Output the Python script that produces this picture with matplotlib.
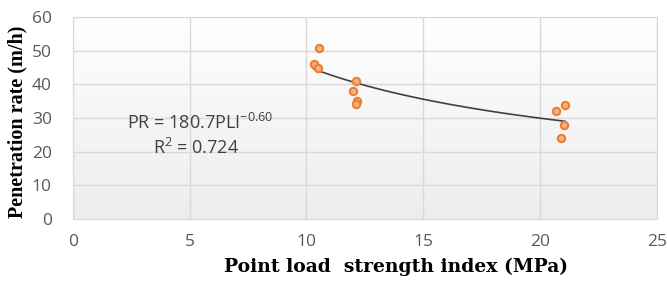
import numpy as np
import matplotlib
matplotlib.use("Agg")
from matplotlib import pyplot as plt

# measured points (PLI in MPa, PR in m/h)
pli = [10.53, 10.31, 10.50, 12.12, 11.98, 12.17, 12.10, 20.67, 21.05, 21.00, 20.88]
pr = [50.9, 46.0, 44.9, 41.0, 38.0, 35.1, 34.2, 32.0, 34.0, 27.8, 24.0]

# power trend given on the chart
coef_a = 180.7
coef_b = -0.60
x_ticks = [0, 5, 10, 15, 20, 25]
y_ticks = [0, 10, 20, 30, 40, 50, 60]

fig = plt.figure(figsize=(6.67, 2.83), dpi=100)
ax = fig.add_axes([0.109, 0.226, 0.876, 0.714])

# faint vertical gradient like the spreadsheet plot area
grad = np.linspace(0, 1, 100).reshape(-1, 1)
bg = matplotlib.colors.LinearSegmentedColormap.from_list("bg", ["#ffffff", "#eeecec"])
ax.imshow(grad, extent=[0, 25, 0, 60], aspect="auto", cmap=bg, origin="upper", zorder=0)

ax.set_xlim(0, 25)
ax.set_ylim(0, 60)
ax.set_xticks(x_ticks)
ax.set_yticks(y_ticks)
ax.grid(True, color="#d9d9d9", linewidth=1.0, zorder=1)
ax.set_axisbelow(True)
for s in ["top", "right", "left", "bottom"]:
    ax.spines[s].set_color("#d9d9d9")
ax.tick_params(axis="x", length=0, labelsize=12.5, labelcolor="#595959", pad=11)
ax.tick_params(axis="y", length=0, labelsize=12.5, labelcolor="#595959", pad=15)
for lab in ax.get_xticklabels() + ax.get_yticklabels():
    lab.set_family("Open Sans")

xs = np.linspace(min(pli), max(pli), 100)
ax.plot(xs, coef_a * xs ** coef_b, color="#404040", linewidth=1.2, zorder=3)
ax.scatter(pli, pr, s=28, facecolor="#f4b183", edgecolor="#ed7d31", linewidth=1.5, zorder=4)

ax.text(5.45, 28.6, "PR = 180.7PLI$^{\\mathregular{-0.60}}$", ha="center", va="center", fontsize=13, color="#404040", family="Open Sans")
ax.text(5.3, 21.2, "R$^{\\mathregular{2}}$ = 0.724", ha="center", va="center", fontsize=13, color="#404040", family="Open Sans")

ax.set_xlabel("Point load  strength index (MPa)", family="DejaVu Serif", fontweight="bold", fontsize=13.5)
ax.xaxis.set_label_coords(0.553, -0.19)
ax.set_ylabel("Penetration rate (m/h)", family="Liberation Serif", fontweight="bold", fontsize=14.5)
ax.yaxis.set_label_coords(-0.077, 0.48)

fig.savefig("out.png", dpi=100)
